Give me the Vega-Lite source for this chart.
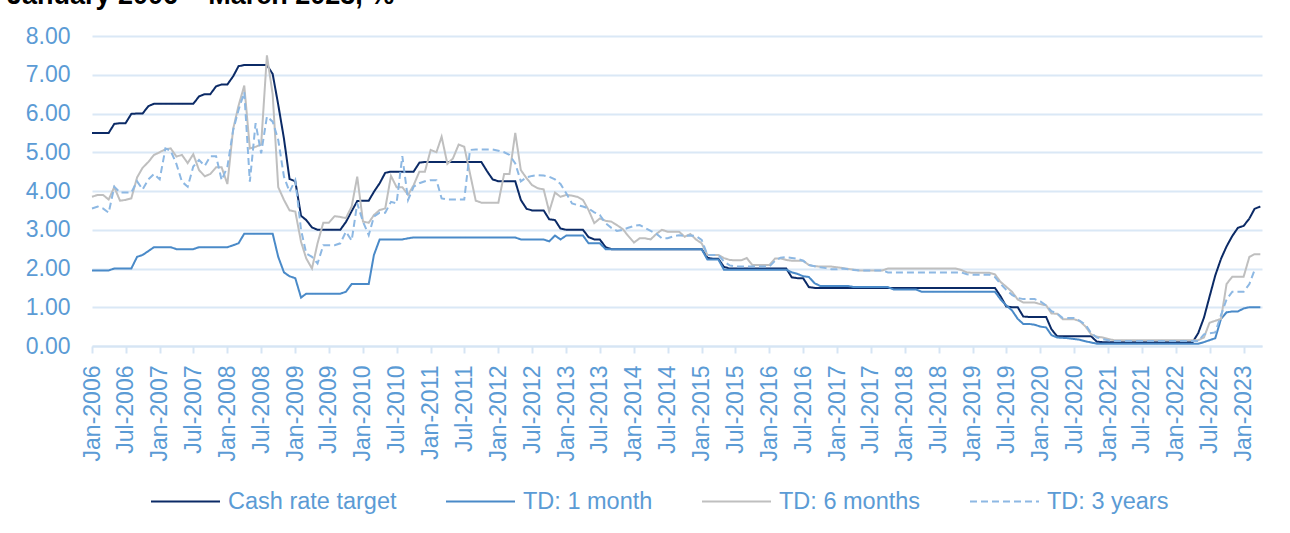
{
  "$schema": "https://vega.github.io/schema/vega-lite/v6.json",
  "width": 1170,
  "height": 310,
  "autosize": {"type": "none"},
  "padding": {"left": 92, "top": 36, "right": 28, "bottom": 187},
  "background": "white",
  "title": {
    "text": "January 2006 – March 2023, %",
    "anchor": "start",
    "frame": "group",
    "orient": "top",
    "fontSize": 27,
    "fontWeight": "bold",
    "color": "#000000",
    "font": "Liberation Sans",
    "baseline": "alphabetic",
    "offset": 13,
    "dy": 19,
    "dx": -85
  },
  "data": {
    "values": [
      {"d":"2006/01/01","Cash rate target":5.5,"TD: 1 month":1.95,"TD: 6 months":3.85,"TD: 3 years":3.55},
      {"d":"2006/02/01","Cash rate target":5.5,"TD: 1 month":1.95,"TD: 6 months":3.9,"TD: 3 years":3.6},
      {"d":"2006/03/01","Cash rate target":5.5,"TD: 1 month":1.95,"TD: 6 months":3.9,"TD: 3 years":3.55},
      {"d":"2006/04/01","Cash rate target":5.5,"TD: 1 month":1.95,"TD: 6 months":3.78,"TD: 3 years":3.44},
      {"d":"2006/05/01","Cash rate target":5.73,"TD: 1 month":2.0,"TD: 6 months":4.1,"TD: 3 years":4.11},
      {"d":"2006/06/01","Cash rate target":5.75,"TD: 1 month":2.0,"TD: 6 months":3.75,"TD: 3 years":3.96},
      {"d":"2006/07/01","Cash rate target":5.75,"TD: 1 month":2.0,"TD: 6 months":3.77,"TD: 3 years":3.96},
      {"d":"2006/08/01","Cash rate target":5.99,"TD: 1 month":2.0,"TD: 6 months":3.81,"TD: 3 years":3.96},
      {"d":"2006/09/01","Cash rate target":6.0,"TD: 1 month":2.3,"TD: 6 months":4.35,"TD: 3 years":4.25},
      {"d":"2006/10/01","Cash rate target":6.0,"TD: 1 month":2.35,"TD: 6 months":4.6,"TD: 3 years":4.04},
      {"d":"2006/11/01","Cash rate target":6.19,"TD: 1 month":2.45,"TD: 6 months":4.75,"TD: 3 years":4.3},
      {"d":"2006/12/01","Cash rate target":6.25,"TD: 1 month":2.55,"TD: 6 months":4.93,"TD: 3 years":4.44},
      {"d":"2007/01/01","Cash rate target":6.25,"TD: 1 month":2.55,"TD: 6 months":5.0,"TD: 3 years":4.3},
      {"d":"2007/02/01","Cash rate target":6.25,"TD: 1 month":2.55,"TD: 6 months":5.08,"TD: 3 years":5.1},
      {"d":"2007/03/01","Cash rate target":6.25,"TD: 1 month":2.55,"TD: 6 months":5.1,"TD: 3 years":5.04},
      {"d":"2007/04/01","Cash rate target":6.25,"TD: 1 month":2.5,"TD: 6 months":4.89,"TD: 3 years":4.7},
      {"d":"2007/05/01","Cash rate target":6.25,"TD: 1 month":2.5,"TD: 6 months":4.93,"TD: 3 years":4.24},
      {"d":"2007/06/01","Cash rate target":6.25,"TD: 1 month":2.5,"TD: 6 months":4.72,"TD: 3 years":4.11},
      {"d":"2007/07/01","Cash rate target":6.25,"TD: 1 month":2.5,"TD: 6 months":4.95,"TD: 3 years":4.63},
      {"d":"2007/08/01","Cash rate target":6.44,"TD: 1 month":2.55,"TD: 6 months":4.54,"TD: 3 years":4.8},
      {"d":"2007/09/01","Cash rate target":6.5,"TD: 1 month":2.55,"TD: 6 months":4.38,"TD: 3 years":4.65},
      {"d":"2007/10/01","Cash rate target":6.5,"TD: 1 month":2.55,"TD: 6 months":4.44,"TD: 3 years":4.9},
      {"d":"2007/11/01","Cash rate target":6.7,"TD: 1 month":2.55,"TD: 6 months":4.61,"TD: 3 years":4.9},
      {"d":"2007/12/01","Cash rate target":6.75,"TD: 1 month":2.55,"TD: 6 months":4.61,"TD: 3 years":4.28},
      {"d":"2008/01/01","Cash rate target":6.75,"TD: 1 month":2.55,"TD: 6 months":4.18,"TD: 3 years":4.63},
      {"d":"2008/02/01","Cash rate target":6.96,"TD: 1 month":2.6,"TD: 6 months":5.6,"TD: 3 years":5.57},
      {"d":"2008/03/01","Cash rate target":7.22,"TD: 1 month":2.65,"TD: 6 months":6.2,"TD: 3 years":6.09},
      {"d":"2008/04/01","Cash rate target":7.25,"TD: 1 month":2.9,"TD: 6 months":6.72,"TD: 3 years":6.55},
      {"d":"2008/05/01","Cash rate target":7.25,"TD: 1 month":2.9,"TD: 6 months":5.1,"TD: 3 years":4.24},
      {"d":"2008/06/01","Cash rate target":7.25,"TD: 1 month":2.9,"TD: 6 months":5.14,"TD: 3 years":5.75},
      {"d":"2008/07/01","Cash rate target":7.25,"TD: 1 month":2.9,"TD: 6 months":5.2,"TD: 3 years":4.97},
      {"d":"2008/08/01","Cash rate target":7.25,"TD: 1 month":2.9,"TD: 6 months":7.5,"TD: 3 years":5.92},
      {"d":"2008/09/01","Cash rate target":7.02,"TD: 1 month":2.9,"TD: 6 months":6.5,"TD: 3 years":5.79},
      {"d":"2008/10/01","Cash rate target":6.23,"TD: 1 month":2.3,"TD: 6 months":4.1,"TD: 3 years":5.32},
      {"d":"2008/11/01","Cash rate target":5.35,"TD: 1 month":1.9,"TD: 6 months":3.77,"TD: 3 years":4.37},
      {"d":"2008/12/01","Cash rate target":4.31,"TD: 1 month":1.8,"TD: 6 months":3.5,"TD: 3 years":3.98},
      {"d":"2009/01/01","Cash rate target":4.25,"TD: 1 month":1.75,"TD: 6 months":3.47,"TD: 3 years":4.28},
      {"d":"2009/02/01","Cash rate target":3.36,"TD: 1 month":1.25,"TD: 6 months":2.69,"TD: 3 years":3.0},
      {"d":"2009/03/01","Cash rate target":3.25,"TD: 1 month":1.35,"TD: 6 months":2.26,"TD: 3 years":2.39},
      {"d":"2009/04/01","Cash rate target":3.06,"TD: 1 month":1.35,"TD: 6 months":2.0,"TD: 3 years":2.3},
      {"d":"2009/05/01","Cash rate target":3.0,"TD: 1 month":1.35,"TD: 6 months":2.65,"TD: 3 years":2.13},
      {"d":"2009/06/01","Cash rate target":3.0,"TD: 1 month":1.35,"TD: 6 months":3.18,"TD: 3 years":2.6},
      {"d":"2009/07/01","Cash rate target":3.0,"TD: 1 month":1.35,"TD: 6 months":3.18,"TD: 3 years":2.6},
      {"d":"2009/08/01","Cash rate target":3.0,"TD: 1 month":1.35,"TD: 6 months":3.35,"TD: 3 years":2.6},
      {"d":"2009/09/01","Cash rate target":3.0,"TD: 1 month":1.35,"TD: 6 months":3.33,"TD: 3 years":2.65},
      {"d":"2009/10/01","Cash rate target":3.2,"TD: 1 month":1.4,"TD: 6 months":3.3,"TD: 3 years":2.95},
      {"d":"2009/11/01","Cash rate target":3.48,"TD: 1 month":1.6,"TD: 6 months":3.6,"TD: 3 years":2.72},
      {"d":"2009/12/01","Cash rate target":3.74,"TD: 1 month":1.6,"TD: 6 months":4.37,"TD: 3 years":3.68},
      {"d":"2010/01/01","Cash rate target":3.75,"TD: 1 month":1.6,"TD: 6 months":3.21,"TD: 3 years":3.21},
      {"d":"2010/02/01","Cash rate target":3.75,"TD: 1 month":1.6,"TD: 6 months":3.18,"TD: 3 years":2.86},
      {"d":"2010/03/01","Cash rate target":3.98,"TD: 1 month":2.35,"TD: 6 months":3.38,"TD: 3 years":3.34},
      {"d":"2010/04/01","Cash rate target":4.2,"TD: 1 month":2.75,"TD: 6 months":3.51,"TD: 3 years":3.44},
      {"d":"2010/05/01","Cash rate target":4.47,"TD: 1 month":2.75,"TD: 6 months":3.55,"TD: 3 years":3.44},
      {"d":"2010/06/01","Cash rate target":4.5,"TD: 1 month":2.75,"TD: 6 months":4.39,"TD: 3 years":3.72},
      {"d":"2010/07/01","Cash rate target":4.5,"TD: 1 month":2.75,"TD: 6 months":4.1,"TD: 3 years":3.68},
      {"d":"2010/08/01","Cash rate target":4.5,"TD: 1 month":2.75,"TD: 6 months":4.1,"TD: 3 years":4.9},
      {"d":"2010/09/01","Cash rate target":4.5,"TD: 1 month":2.78,"TD: 6 months":3.9,"TD: 3 years":3.77},
      {"d":"2010/10/01","Cash rate target":4.5,"TD: 1 month":2.8,"TD: 6 months":4.15,"TD: 3 years":4.11},
      {"d":"2010/11/01","Cash rate target":4.73,"TD: 1 month":2.8,"TD: 6 months":4.5,"TD: 3 years":4.2},
      {"d":"2010/12/01","Cash rate target":4.75,"TD: 1 month":2.8,"TD: 6 months":4.5,"TD: 3 years":4.25},
      {"d":"2011/01/01","Cash rate target":4.75,"TD: 1 month":2.8,"TD: 6 months":5.06,"TD: 3 years":4.28},
      {"d":"2011/02/01","Cash rate target":4.75,"TD: 1 month":2.8,"TD: 6 months":5.0,"TD: 3 years":4.28},
      {"d":"2011/03/01","Cash rate target":4.75,"TD: 1 month":2.8,"TD: 6 months":5.4,"TD: 3 years":3.81},
      {"d":"2011/04/01","Cash rate target":4.75,"TD: 1 month":2.8,"TD: 6 months":4.7,"TD: 3 years":3.78},
      {"d":"2011/05/01","Cash rate target":4.75,"TD: 1 month":2.8,"TD: 6 months":4.84,"TD: 3 years":3.78},
      {"d":"2011/06/01","Cash rate target":4.75,"TD: 1 month":2.8,"TD: 6 months":5.2,"TD: 3 years":3.78},
      {"d":"2011/07/01","Cash rate target":4.75,"TD: 1 month":2.8,"TD: 6 months":5.14,"TD: 3 years":3.78},
      {"d":"2011/08/01","Cash rate target":4.75,"TD: 1 month":2.8,"TD: 6 months":4.45,"TD: 3 years":5.06},
      {"d":"2011/09/01","Cash rate target":4.75,"TD: 1 month":2.8,"TD: 6 months":3.75,"TD: 3 years":5.07},
      {"d":"2011/10/01","Cash rate target":4.75,"TD: 1 month":2.8,"TD: 6 months":3.7,"TD: 3 years":5.07},
      {"d":"2011/11/01","Cash rate target":4.51,"TD: 1 month":2.8,"TD: 6 months":3.7,"TD: 3 years":5.07},
      {"d":"2011/12/01","Cash rate target":4.3,"TD: 1 month":2.8,"TD: 6 months":3.7,"TD: 3 years":5.07},
      {"d":"2012/01/01","Cash rate target":4.25,"TD: 1 month":2.8,"TD: 6 months":3.7,"TD: 3 years":5.04},
      {"d":"2012/02/01","Cash rate target":4.25,"TD: 1 month":2.8,"TD: 6 months":4.44,"TD: 3 years":5.0},
      {"d":"2012/03/01","Cash rate target":4.25,"TD: 1 month":2.8,"TD: 6 months":4.44,"TD: 3 years":4.93},
      {"d":"2012/04/01","Cash rate target":4.25,"TD: 1 month":2.8,"TD: 6 months":5.5,"TD: 3 years":4.71},
      {"d":"2012/05/01","Cash rate target":3.77,"TD: 1 month":2.75,"TD: 6 months":4.54,"TD: 3 years":4.25},
      {"d":"2012/06/01","Cash rate target":3.54,"TD: 1 month":2.75,"TD: 6 months":4.33,"TD: 3 years":4.35},
      {"d":"2012/07/01","Cash rate target":3.5,"TD: 1 month":2.75,"TD: 6 months":4.15,"TD: 3 years":4.39},
      {"d":"2012/08/01","Cash rate target":3.5,"TD: 1 month":2.75,"TD: 6 months":4.07,"TD: 3 years":4.41},
      {"d":"2012/09/01","Cash rate target":3.5,"TD: 1 month":2.75,"TD: 6 months":4.04,"TD: 3 years":4.4},
      {"d":"2012/10/01","Cash rate target":3.27,"TD: 1 month":2.7,"TD: 6 months":3.47,"TD: 3 years":4.37},
      {"d":"2012/11/01","Cash rate target":3.25,"TD: 1 month":2.85,"TD: 6 months":3.96,"TD: 3 years":4.3},
      {"d":"2012/12/01","Cash rate target":3.03,"TD: 1 month":2.75,"TD: 6 months":3.85,"TD: 3 years":4.18},
      {"d":"2013/01/01","Cash rate target":3.0,"TD: 1 month":2.85,"TD: 6 months":3.9,"TD: 3 years":3.94},
      {"d":"2013/02/01","Cash rate target":3.0,"TD: 1 month":2.85,"TD: 6 months":3.88,"TD: 3 years":3.68},
      {"d":"2013/03/01","Cash rate target":3.0,"TD: 1 month":2.85,"TD: 6 months":3.85,"TD: 3 years":3.64},
      {"d":"2013/04/01","Cash rate target":3.0,"TD: 1 month":2.85,"TD: 6 months":3.77,"TD: 3 years":3.6},
      {"d":"2013/05/01","Cash rate target":2.81,"TD: 1 month":2.65,"TD: 6 months":3.51,"TD: 3 years":3.55},
      {"d":"2013/06/01","Cash rate target":2.75,"TD: 1 month":2.65,"TD: 6 months":3.17,"TD: 3 years":3.45},
      {"d":"2013/07/01","Cash rate target":2.75,"TD: 1 month":2.65,"TD: 6 months":3.29,"TD: 3 years":3.38},
      {"d":"2013/08/01","Cash rate target":2.55,"TD: 1 month":2.5,"TD: 6 months":3.23,"TD: 3 years":3.17},
      {"d":"2013/09/01","Cash rate target":2.5,"TD: 1 month":2.5,"TD: 6 months":3.21,"TD: 3 years":3.05},
      {"d":"2013/10/01","Cash rate target":2.5,"TD: 1 month":2.5,"TD: 6 months":3.12,"TD: 3 years":2.97},
      {"d":"2013/11/01","Cash rate target":2.5,"TD: 1 month":2.5,"TD: 6 months":3.02,"TD: 3 years":3.0},
      {"d":"2013/12/01","Cash rate target":2.5,"TD: 1 month":2.5,"TD: 6 months":2.84,"TD: 3 years":3.05},
      {"d":"2014/01/01","Cash rate target":2.5,"TD: 1 month":2.5,"TD: 6 months":2.67,"TD: 3 years":3.1},
      {"d":"2014/02/01","Cash rate target":2.5,"TD: 1 month":2.5,"TD: 6 months":2.78,"TD: 3 years":3.12},
      {"d":"2014/03/01","Cash rate target":2.5,"TD: 1 month":2.5,"TD: 6 months":2.78,"TD: 3 years":3.05},
      {"d":"2014/04/01","Cash rate target":2.5,"TD: 1 month":2.5,"TD: 6 months":2.75,"TD: 3 years":2.97},
      {"d":"2014/05/01","Cash rate target":2.5,"TD: 1 month":2.5,"TD: 6 months":2.89,"TD: 3 years":2.9},
      {"d":"2014/06/01","Cash rate target":2.5,"TD: 1 month":2.5,"TD: 6 months":3.0,"TD: 3 years":2.78},
      {"d":"2014/07/01","Cash rate target":2.5,"TD: 1 month":2.5,"TD: 6 months":2.95,"TD: 3 years":2.78},
      {"d":"2014/08/01","Cash rate target":2.5,"TD: 1 month":2.5,"TD: 6 months":2.95,"TD: 3 years":2.83},
      {"d":"2014/09/01","Cash rate target":2.5,"TD: 1 month":2.5,"TD: 6 months":2.95,"TD: 3 years":2.86},
      {"d":"2014/10/01","Cash rate target":2.5,"TD: 1 month":2.5,"TD: 6 months":2.82,"TD: 3 years":2.84},
      {"d":"2014/11/01","Cash rate target":2.5,"TD: 1 month":2.5,"TD: 6 months":2.89,"TD: 3 years":2.85},
      {"d":"2014/12/01","Cash rate target":2.5,"TD: 1 month":2.5,"TD: 6 months":2.75,"TD: 3 years":2.84},
      {"d":"2015/01/01","Cash rate target":2.5,"TD: 1 month":2.5,"TD: 6 months":2.65,"TD: 3 years":2.74},
      {"d":"2015/02/01","Cash rate target":2.28,"TD: 1 month":2.23,"TD: 6 months":2.35,"TD: 3 years":2.35},
      {"d":"2015/03/01","Cash rate target":2.25,"TD: 1 month":2.23,"TD: 6 months":2.35,"TD: 3 years":2.35},
      {"d":"2015/04/01","Cash rate target":2.25,"TD: 1 month":2.23,"TD: 6 months":2.35,"TD: 3 years":2.35},
      {"d":"2015/05/01","Cash rate target":2.04,"TD: 1 month":1.97,"TD: 6 months":2.27,"TD: 3 years":2.18},
      {"d":"2015/06/01","Cash rate target":2.0,"TD: 1 month":1.97,"TD: 6 months":2.22,"TD: 3 years":2.08},
      {"d":"2015/07/01","Cash rate target":2.0,"TD: 1 month":1.97,"TD: 6 months":2.21,"TD: 3 years":2.05},
      {"d":"2015/08/01","Cash rate target":2.0,"TD: 1 month":1.97,"TD: 6 months":2.21,"TD: 3 years":2.05},
      {"d":"2015/09/01","Cash rate target":2.0,"TD: 1 month":1.97,"TD: 6 months":2.27,"TD: 3 years":2.05},
      {"d":"2015/10/01","Cash rate target":2.0,"TD: 1 month":1.97,"TD: 6 months":2.09,"TD: 3 years":2.05},
      {"d":"2015/11/01","Cash rate target":2.0,"TD: 1 month":1.97,"TD: 6 months":2.09,"TD: 3 years":2.05},
      {"d":"2015/12/01","Cash rate target":2.0,"TD: 1 month":1.97,"TD: 6 months":2.09,"TD: 3 years":2.05},
      {"d":"2016/01/01","Cash rate target":2.0,"TD: 1 month":1.97,"TD: 6 months":2.09,"TD: 3 years":2.05},
      {"d":"2016/02/01","Cash rate target":2.0,"TD: 1 month":1.97,"TD: 6 months":2.26,"TD: 3 years":2.2},
      {"d":"2016/03/01","Cash rate target":2.0,"TD: 1 month":1.97,"TD: 6 months":2.26,"TD: 3 years":2.28},
      {"d":"2016/04/01","Cash rate target":2.0,"TD: 1 month":1.97,"TD: 6 months":2.22,"TD: 3 years":2.29},
      {"d":"2016/05/01","Cash rate target":1.77,"TD: 1 month":1.9,"TD: 6 months":2.2,"TD: 3 years":2.27},
      {"d":"2016/06/01","Cash rate target":1.75,"TD: 1 month":1.86,"TD: 6 months":2.2,"TD: 3 years":2.25},
      {"d":"2016/07/01","Cash rate target":1.75,"TD: 1 month":1.8,"TD: 6 months":2.2,"TD: 3 years":2.2},
      {"d":"2016/08/01","Cash rate target":1.52,"TD: 1 month":1.78,"TD: 6 months":2.09,"TD: 3 years":2.09},
      {"d":"2016/09/01","Cash rate target":1.5,"TD: 1 month":1.62,"TD: 6 months":2.06,"TD: 3 years":2.06},
      {"d":"2016/10/01","Cash rate target":1.5,"TD: 1 month":1.55,"TD: 6 months":2.05,"TD: 3 years":2.03},
      {"d":"2016/11/01","Cash rate target":1.5,"TD: 1 month":1.55,"TD: 6 months":2.05,"TD: 3 years":2.01},
      {"d":"2016/12/01","Cash rate target":1.5,"TD: 1 month":1.55,"TD: 6 months":2.05,"TD: 3 years":1.98},
      {"d":"2017/01/01","Cash rate target":1.5,"TD: 1 month":1.55,"TD: 6 months":2.03,"TD: 3 years":1.98},
      {"d":"2017/02/01","Cash rate target":1.5,"TD: 1 month":1.55,"TD: 6 months":2.01,"TD: 3 years":2.0},
      {"d":"2017/03/01","Cash rate target":1.5,"TD: 1 month":1.55,"TD: 6 months":1.99,"TD: 3 years":1.98},
      {"d":"2017/04/01","Cash rate target":1.5,"TD: 1 month":1.52,"TD: 6 months":1.97,"TD: 3 years":1.96},
      {"d":"2017/05/01","Cash rate target":1.5,"TD: 1 month":1.52,"TD: 6 months":1.95,"TD: 3 years":1.95},
      {"d":"2017/06/01","Cash rate target":1.5,"TD: 1 month":1.52,"TD: 6 months":1.95,"TD: 3 years":1.95},
      {"d":"2017/07/01","Cash rate target":1.5,"TD: 1 month":1.52,"TD: 6 months":1.95,"TD: 3 years":1.95},
      {"d":"2017/08/01","Cash rate target":1.5,"TD: 1 month":1.52,"TD: 6 months":1.95,"TD: 3 years":1.95},
      {"d":"2017/09/01","Cash rate target":1.5,"TD: 1 month":1.52,"TD: 6 months":1.95,"TD: 3 years":1.95},
      {"d":"2017/10/01","Cash rate target":1.5,"TD: 1 month":1.52,"TD: 6 months":2.0,"TD: 3 years":1.9},
      {"d":"2017/11/01","Cash rate target":1.5,"TD: 1 month":1.46,"TD: 6 months":2.0,"TD: 3 years":1.9},
      {"d":"2017/12/01","Cash rate target":1.5,"TD: 1 month":1.46,"TD: 6 months":2.0,"TD: 3 years":1.9},
      {"d":"2018/01/01","Cash rate target":1.5,"TD: 1 month":1.46,"TD: 6 months":2.0,"TD: 3 years":1.9},
      {"d":"2018/02/01","Cash rate target":1.5,"TD: 1 month":1.46,"TD: 6 months":2.0,"TD: 3 years":1.9},
      {"d":"2018/03/01","Cash rate target":1.5,"TD: 1 month":1.46,"TD: 6 months":2.0,"TD: 3 years":1.9},
      {"d":"2018/04/01","Cash rate target":1.5,"TD: 1 month":1.4,"TD: 6 months":2.0,"TD: 3 years":1.9},
      {"d":"2018/05/01","Cash rate target":1.5,"TD: 1 month":1.4,"TD: 6 months":2.0,"TD: 3 years":1.9},
      {"d":"2018/06/01","Cash rate target":1.5,"TD: 1 month":1.4,"TD: 6 months":2.0,"TD: 3 years":1.9},
      {"d":"2018/07/01","Cash rate target":1.5,"TD: 1 month":1.4,"TD: 6 months":2.0,"TD: 3 years":1.9},
      {"d":"2018/08/01","Cash rate target":1.5,"TD: 1 month":1.4,"TD: 6 months":2.0,"TD: 3 years":1.9},
      {"d":"2018/09/01","Cash rate target":1.5,"TD: 1 month":1.4,"TD: 6 months":2.0,"TD: 3 years":1.9},
      {"d":"2018/10/01","Cash rate target":1.5,"TD: 1 month":1.4,"TD: 6 months":2.0,"TD: 3 years":1.9},
      {"d":"2018/11/01","Cash rate target":1.5,"TD: 1 month":1.4,"TD: 6 months":1.96,"TD: 3 years":1.9},
      {"d":"2018/12/01","Cash rate target":1.5,"TD: 1 month":1.4,"TD: 6 months":1.9,"TD: 3 years":1.85},
      {"d":"2019/01/01","Cash rate target":1.5,"TD: 1 month":1.4,"TD: 6 months":1.89,"TD: 3 years":1.84},
      {"d":"2019/02/01","Cash rate target":1.5,"TD: 1 month":1.4,"TD: 6 months":1.89,"TD: 3 years":1.84},
      {"d":"2019/03/01","Cash rate target":1.5,"TD: 1 month":1.4,"TD: 6 months":1.89,"TD: 3 years":1.84},
      {"d":"2019/04/01","Cash rate target":1.5,"TD: 1 month":1.4,"TD: 6 months":1.89,"TD: 3 years":1.84},
      {"d":"2019/05/01","Cash rate target":1.5,"TD: 1 month":1.4,"TD: 6 months":1.85,"TD: 3 years":1.78},
      {"d":"2019/06/01","Cash rate target":1.28,"TD: 1 month":1.2,"TD: 6 months":1.65,"TD: 3 years":1.6},
      {"d":"2019/07/01","Cash rate target":1.02,"TD: 1 month":1.05,"TD: 6 months":1.53,"TD: 3 years":1.45},
      {"d":"2019/08/01","Cash rate target":1.0,"TD: 1 month":0.92,"TD: 6 months":1.4,"TD: 3 years":1.32},
      {"d":"2019/09/01","Cash rate target":1.0,"TD: 1 month":0.7,"TD: 6 months":1.2,"TD: 3 years":1.24},
      {"d":"2019/10/01","Cash rate target":0.76,"TD: 1 month":0.57,"TD: 6 months":1.12,"TD: 3 years":1.21},
      {"d":"2019/11/01","Cash rate target":0.75,"TD: 1 month":0.57,"TD: 6 months":1.12,"TD: 3 years":1.21},
      {"d":"2019/12/01","Cash rate target":0.75,"TD: 1 month":0.55,"TD: 6 months":1.12,"TD: 3 years":1.21},
      {"d":"2020/01/01","Cash rate target":0.75,"TD: 1 month":0.5,"TD: 6 months":1.08,"TD: 3 years":1.15},
      {"d":"2020/02/01","Cash rate target":0.75,"TD: 1 month":0.48,"TD: 6 months":1.05,"TD: 3 years":1.05},
      {"d":"2020/03/01","Cash rate target":0.43,"TD: 1 month":0.28,"TD: 6 months":0.84,"TD: 3 years":0.9},
      {"d":"2020/04/01","Cash rate target":0.25,"TD: 1 month":0.22,"TD: 6 months":0.83,"TD: 3 years":0.84},
      {"d":"2020/05/01","Cash rate target":0.25,"TD: 1 month":0.21,"TD: 6 months":0.69,"TD: 3 years":0.72},
      {"d":"2020/06/01","Cash rate target":0.25,"TD: 1 month":0.2,"TD: 6 months":0.69,"TD: 3 years":0.72},
      {"d":"2020/07/01","Cash rate target":0.25,"TD: 1 month":0.18,"TD: 6 months":0.69,"TD: 3 years":0.72},
      {"d":"2020/08/01","Cash rate target":0.25,"TD: 1 month":0.16,"TD: 6 months":0.64,"TD: 3 years":0.65},
      {"d":"2020/09/01","Cash rate target":0.25,"TD: 1 month":0.12,"TD: 6 months":0.5,"TD: 3 years":0.55},
      {"d":"2020/10/01","Cash rate target":0.25,"TD: 1 month":0.09,"TD: 6 months":0.3,"TD: 3 years":0.33},
      {"d":"2020/11/01","Cash rate target":0.11,"TD: 1 month":0.06,"TD: 6 months":0.24,"TD: 3 years":0.22},
      {"d":"2020/12/01","Cash rate target":0.1,"TD: 1 month":0.06,"TD: 6 months":0.22,"TD: 3 years":0.18},
      {"d":"2021/01/01","Cash rate target":0.1,"TD: 1 month":0.06,"TD: 6 months":0.18,"TD: 3 years":0.15},
      {"d":"2021/02/01","Cash rate target":0.1,"TD: 1 month":0.06,"TD: 6 months":0.15,"TD: 3 years":0.13},
      {"d":"2021/03/01","Cash rate target":0.1,"TD: 1 month":0.06,"TD: 6 months":0.15,"TD: 3 years":0.13},
      {"d":"2021/04/01","Cash rate target":0.1,"TD: 1 month":0.06,"TD: 6 months":0.15,"TD: 3 years":0.13},
      {"d":"2021/05/01","Cash rate target":0.1,"TD: 1 month":0.06,"TD: 6 months":0.15,"TD: 3 years":0.13},
      {"d":"2021/06/01","Cash rate target":0.1,"TD: 1 month":0.06,"TD: 6 months":0.15,"TD: 3 years":0.13},
      {"d":"2021/07/01","Cash rate target":0.1,"TD: 1 month":0.06,"TD: 6 months":0.15,"TD: 3 years":0.13},
      {"d":"2021/08/01","Cash rate target":0.1,"TD: 1 month":0.06,"TD: 6 months":0.15,"TD: 3 years":0.13},
      {"d":"2021/09/01","Cash rate target":0.1,"TD: 1 month":0.06,"TD: 6 months":0.15,"TD: 3 years":0.13},
      {"d":"2021/10/01","Cash rate target":0.1,"TD: 1 month":0.06,"TD: 6 months":0.15,"TD: 3 years":0.13},
      {"d":"2021/11/01","Cash rate target":0.1,"TD: 1 month":0.06,"TD: 6 months":0.15,"TD: 3 years":0.13},
      {"d":"2021/12/01","Cash rate target":0.1,"TD: 1 month":0.06,"TD: 6 months":0.15,"TD: 3 years":0.13},
      {"d":"2022/01/01","Cash rate target":0.1,"TD: 1 month":0.06,"TD: 6 months":0.15,"TD: 3 years":0.13},
      {"d":"2022/02/01","Cash rate target":0.1,"TD: 1 month":0.06,"TD: 6 months":0.15,"TD: 3 years":0.13},
      {"d":"2022/03/01","Cash rate target":0.1,"TD: 1 month":0.06,"TD: 6 months":0.15,"TD: 3 years":0.13},
      {"d":"2022/04/01","Cash rate target":0.1,"TD: 1 month":0.06,"TD: 6 months":0.15,"TD: 3 years":0.13},
      {"d":"2022/05/01","Cash rate target":0.33,"TD: 1 month":0.06,"TD: 6 months":0.15,"TD: 3 years":0.13},
      {"d":"2022/06/01","Cash rate target":0.73,"TD: 1 month":0.1,"TD: 6 months":0.22,"TD: 3 years":0.3},
      {"d":"2022/07/01","Cash rate target":1.27,"TD: 1 month":0.15,"TD: 6 months":0.6,"TD: 3 years":0.33},
      {"d":"2022/08/01","Cash rate target":1.82,"TD: 1 month":0.2,"TD: 6 months":0.65,"TD: 3 years":0.35},
      {"d":"2022/09/01","Cash rate target":2.25,"TD: 1 month":0.7,"TD: 6 months":0.7,"TD: 3 years":0.8},
      {"d":"2022/10/01","Cash rate target":2.57,"TD: 1 month":0.87,"TD: 6 months":1.6,"TD: 3 years":1.2},
      {"d":"2022/11/01","Cash rate target":2.84,"TD: 1 month":0.89,"TD: 6 months":1.79,"TD: 3 years":1.4},
      {"d":"2022/12/01","Cash rate target":3.05,"TD: 1 month":0.89,"TD: 6 months":1.79,"TD: 3 years":1.4},
      {"d":"2023/01/01","Cash rate target":3.1,"TD: 1 month":0.97,"TD: 6 months":1.79,"TD: 3 years":1.4},
      {"d":"2023/02/01","Cash rate target":3.29,"TD: 1 month":1.0,"TD: 6 months":2.3,"TD: 3 years":1.6},
      {"d":"2023/03/01","Cash rate target":3.54,"TD: 1 month":1.0,"TD: 6 months":2.37,"TD: 3 years":1.96},
      {"d":"2023/04/01","Cash rate target":3.6,"TD: 1 month":1.0,"TD: 6 months":2.37,"TD: 3 years":null}
    ]
  },
  "transform": [
    {"fold": ["Cash rate target", "TD: 1 month", "TD: 6 months", "TD: 3 years"], "as": ["series", "value"]}
  ],
  "mark": {"type": "line", "strokeWidth": 2, "interpolate": "linear"},
  "encoding": {
    "x": {
      "field": "d",
      "type": "temporal",
      "scale": {"domain": [{"year": 2006, "month": 1, "date": 1}, {"year": 2023, "month": 4, "date": 10}]},
      "axis": {
        "title": null,
        "format": "%b-%Y",
        "tickCount": {"interval": "month", "step": 6},
        "labelAngle": -90,
        "labelFontSize": 23,
        "labelColor": "#5b9bd5",
        "labelPadding": 12,
        "labelOverlap": false,
        "labelBound": false,
        "labelFlush": false,
        "grid": false,
        "domain": true,
        "domainColor": "#d6e5f4",
        "domainWidth": 2,
        "ticks": true,
        "tickColor": "#d6e5f4",
        "tickWidth": 2,
        "tickSize": 7
      }
    },
    "y": {
      "field": "value",
      "type": "quantitative",
      "scale": {"domain": [0, 8], "nice": false},
      "axis": {
        "title": null,
        "values": [0, 1, 2, 3, 4, 5, 6, 7, 8],
        "format": ".2f",
        "labelFontSize": 23,
        "labelColor": "#5b9bd5",
        "labelPadding": 22,
        "domain": false,
        "ticks": false,
        "tickSize": 0,
        "grid": true,
        "gridColor": "#dae8f6",
        "gridWidth": 2
      }
    },
    "color": {
      "field": "series",
      "type": "nominal",
      "scale": {
        "domain": ["Cash rate target", "TD: 1 month", "TD: 6 months", "TD: 3 years"],
        "range": ["#0b2a66", "#4a8ac8", "#bfbfbf", "#8db8e3"]
      },
      "legend": {
        "title": null,
        "orient": "none",
        "legendX": 58,
        "legendY": 430,
        "direction": "horizontal",
        "symbolType": "stroke",
        "symbolSize": 4761,
        "symbolStrokeWidth": 2,
        "labelFontSize": 23.5,
        "labelColor": "#5b9bd5",
        "labelOffset": 7,
        "labelLimit": 400,
        "columnPadding": 45,
        "padding": 0
      }
    },
    "strokeDash": {
      "field": "series",
      "type": "nominal",
      "scale": {
        "domain": ["Cash rate target", "TD: 1 month", "TD: 6 months", "TD: 3 years"],
        "range": [[1, 0], [1, 0], [1, 0], [7, 4]]
      },
      "legend": {
        "title": null,
        "orient": "none",
        "legendX": 58,
        "legendY": 430,
        "direction": "horizontal",
        "symbolType": "stroke",
        "symbolSize": 4761,
        "symbolStrokeWidth": 2,
        "labelFontSize": 23.5,
        "labelColor": "#5b9bd5",
        "labelOffset": 7,
        "labelLimit": 400,
        "columnPadding": 45,
        "padding": 0
      }
    },
    "order": {"field": "series", "type": "nominal"}
  },
  "config": {
    "font": "Liberation Sans",
    "view": {"stroke": null}
  }
}
